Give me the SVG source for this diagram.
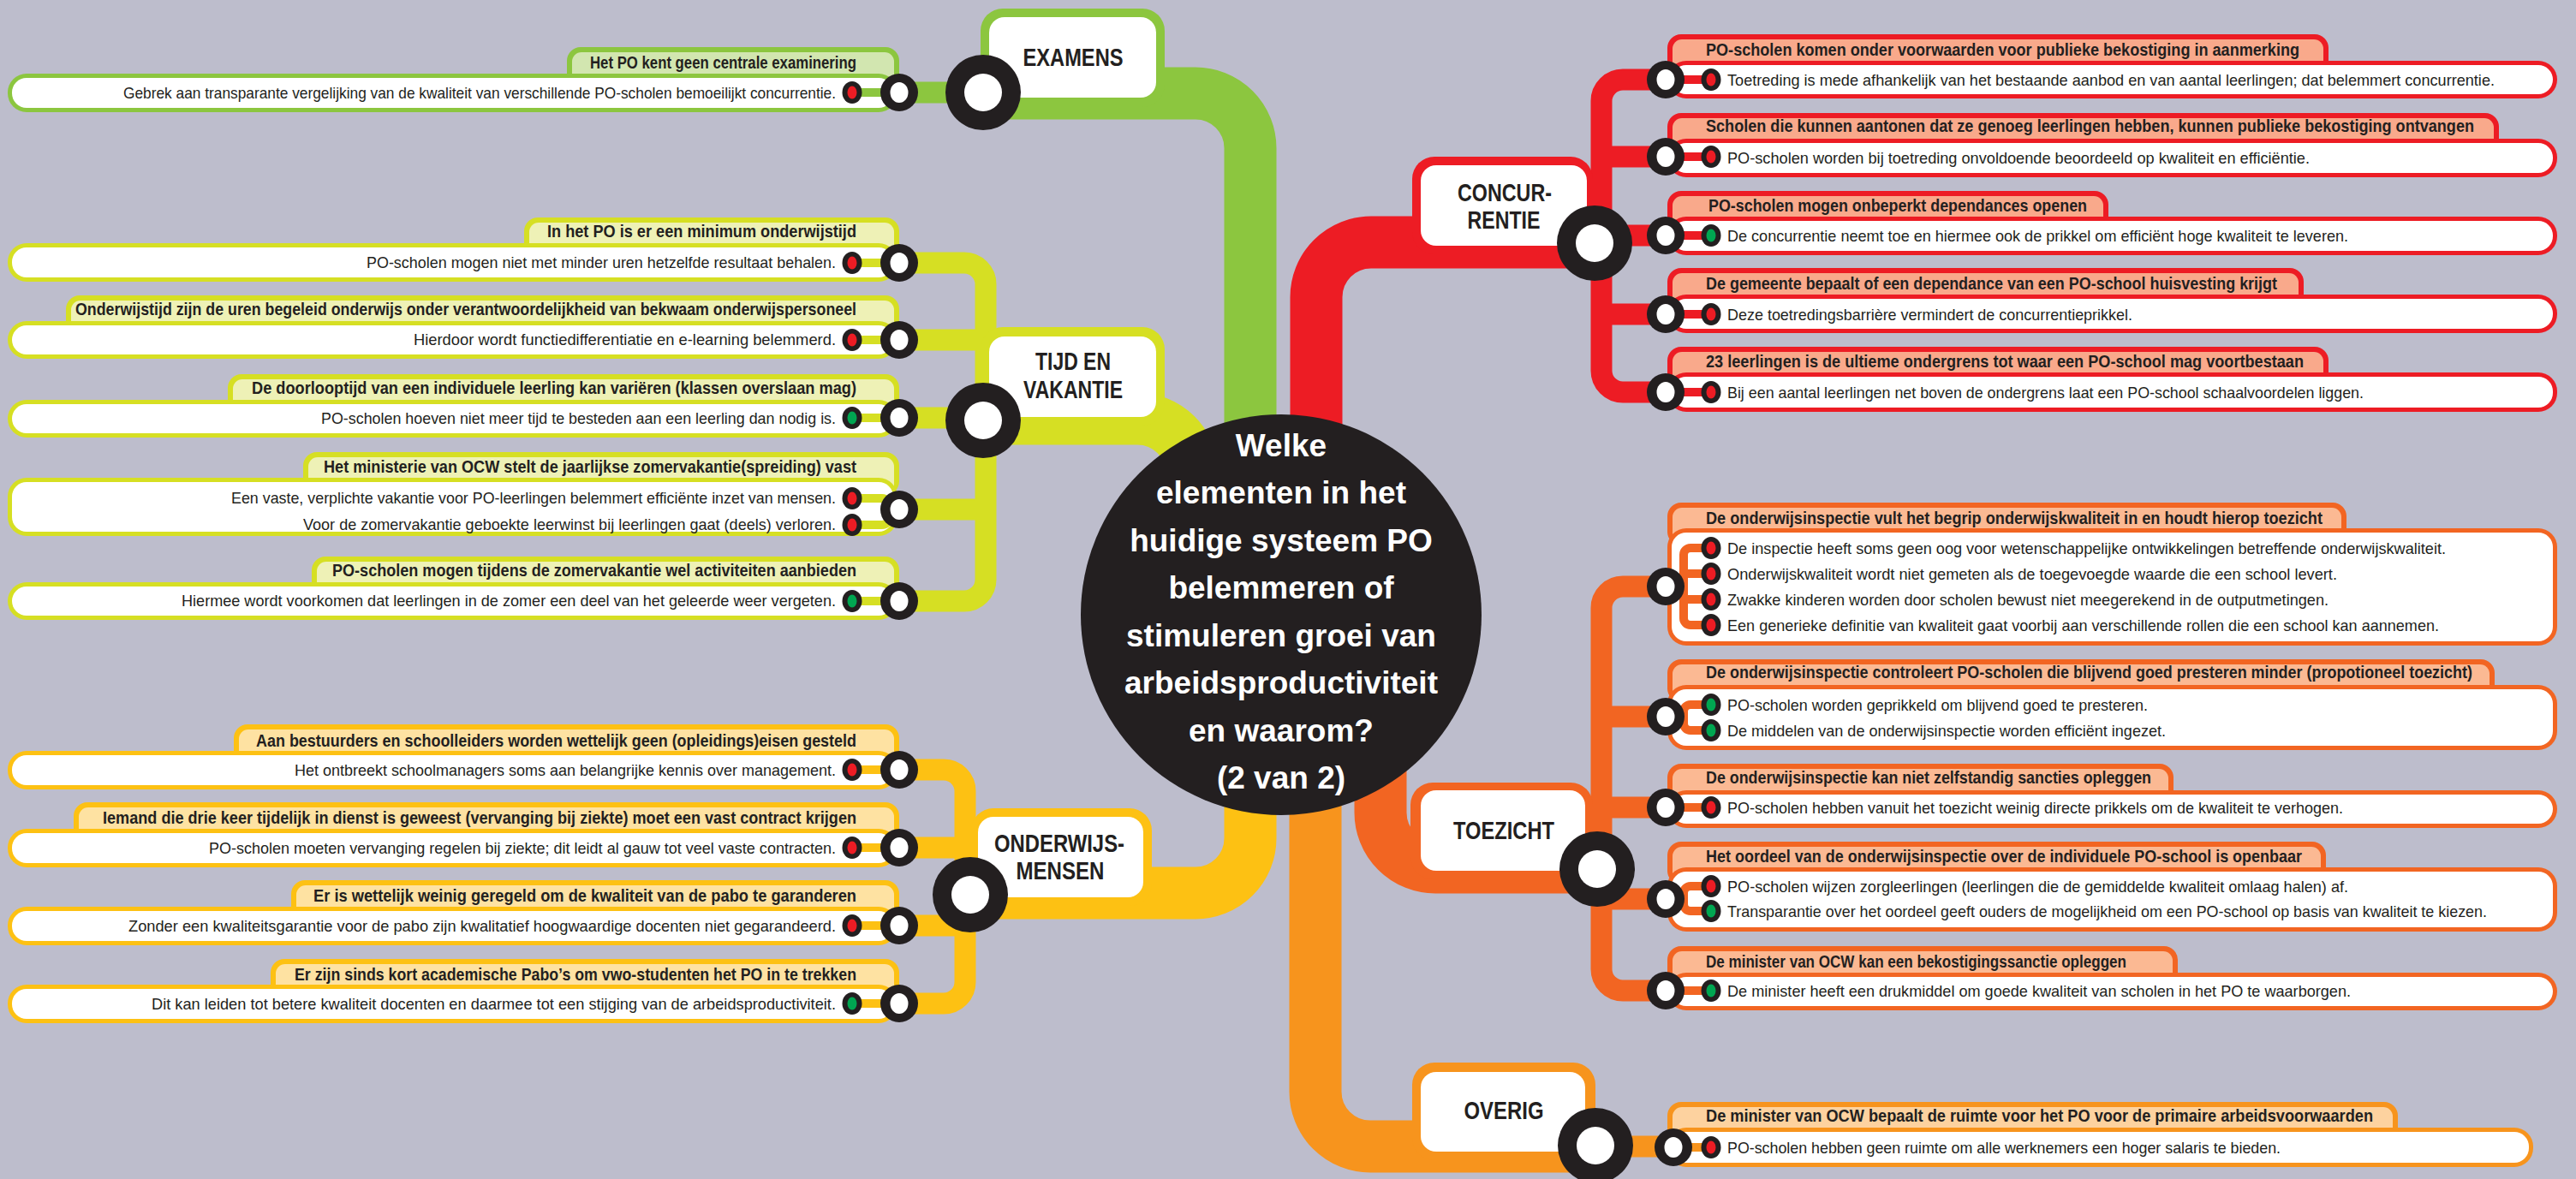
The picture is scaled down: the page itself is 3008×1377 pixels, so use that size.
<svg xmlns="http://www.w3.org/2000/svg" xmlns:xlink="http://www.w3.org/1999/xlink" width="3008" height="1377" viewBox="0 0 3008 1377">
<style>
.bg{fill:#bdbdcc}
.ex{fill:#8cc63f}.tv{fill:#d6df23}.co{fill:#ed1c24}.to{fill:#f26522}.om{fill:#fdc113}.ov{fill:#f7941d}
.tex{fill:#d2e6b0}.ttv{fill:#eef1b6}.tco{fill:#f9a98b}.tto{fill:#fbb993}.tom{fill:#fee2a2}.tov{fill:#fdd29f}
.sex{stroke:#8cc63f}.stv{stroke:#d6df23}.sco{stroke:#ed1c24}.sto{stroke:#f26522}.som{stroke:#fdc113}.sov{stroke:#f7941d}
.w{fill:#fff}
.band{fill:none;stroke-width:61}
.bus{fill:none;stroke-width:25}
.stub{fill:none;stroke-width:10}
.h{font-family:"Liberation Sans",Arial,sans-serif;font-weight:bold;font-size:21px;fill:#231f20}
.t{font-family:"Liberation Sans",Arial,sans-serif;font-size:18.5px;fill:#231f20}
.l{font-family:"Liberation Sans",Arial,sans-serif;font-weight:bold;font-size:30px;fill:#231f20;text-anchor:middle}
.q{font-family:"Liberation Sans",Arial,sans-serif;font-weight:bold;font-size:37px;fill:#fff;text-anchor:middle}
.e{text-anchor:end}
</style>
<defs>
<g id="ring"><circle r="22" fill="#231f20"/><ellipse rx="10.5" ry="12" fill="#fff"/></g>
<g id="hub"><circle r="44" fill="#231f20"/><circle r="22" fill="#fff"/></g>
<g id="dr"><ellipse rx="11.5" ry="13" fill="#231f20"/><ellipse rx="5.5" ry="7.5" fill="#ed1c24"/></g>
<g id="dg"><ellipse rx="11.5" ry="13" fill="#231f20"/><ellipse rx="5.5" ry="7.5" fill="#00a651"/></g>
</defs>
<rect class="bg" x="0" y="0" width="3008" height="1377"/>

<!-- branch lines and leaf buses -->
<g id="connectors">
<path class="band sex" d="M1148,109H1396A64,64 0 0 1 1460,173V600"/>
<path class="band stv" d="M1148,489H1328A64,64 0 0 1 1392,553V700"/>
<path class="band sco" d="M1862,283H1601A64,64 0 0 0 1537,347V600"/>
<path class="band som" d="M1133,1043H1396A64,64 0 0 0 1460,979V800"/>
<path class="band sto" d="M1865,1013H1676A64,64 0 0 1 1612,949V800"/>
<path class="band sov" d="M1863,1339H1600A64,64 0 0 1 1536,1275V800"/>
<path class="bus sex" d="M1050,108H1148"/>
<path class="bus stv" d="M1050,307H1126A25,25 0 0 1 1151,332V677A25,25 0 0 1 1126,702H1050M1050,397H1151M1050,488H1151M1050,595H1151"/>
<path class="bus sco" d="M1945,93H1895A25,25 0 0 0 1870,118V433A25,25 0 0 0 1895,458H1945M1870,183H1945M1870,275H1945M1870,367H1945"/>
<path class="bus sto" d="M1945,685H1895A25,25 0 0 0 1870,710V1132A25,25 0 0 0 1895,1157H1945M1870,837H1945M1870,943H1945M1870,1050H1945"/>
<path class="bus som" d="M1050,899H1102A25,25 0 0 1 1127,924V1147A25,25 0 0 1 1102,1172H1050M1050,990H1127M1050,1081H1127"/>
<path class="bus sov" d="M1863,1339H1954"/>
</g>

<!-- EXAMENS leaves -->
<g id="ex-1">
<rect class="ex" x="662" y="55" width="388" height="51" rx="16"/><rect class="tex" x="668" y="61" width="376" height="45" rx="11"/>
<rect class="ex" x="9" y="86" width="1039" height="45" rx="22"/><rect class="w" x="14" y="91" width="1029" height="35" rx="17"/>
<text class="h e" x="1000" y="80" textLength="311" lengthAdjust="spacingAndGlyphs">Het PO kent geen centrale examinering</text>
<path class="stub sex" d="M995,108H1050"/><use href="#dr" x="995" y="108"/>
<text class="t e" x="976" y="115" textLength="832" lengthAdjust="spacingAndGlyphs">Gebrek aan transparante vergelijking van de kwaliteit van verschillende PO-scholen bemoeilijkt concurrentie.</text>
<use href="#ring" x="1050" y="108"/>
</g>

<!-- TIJD EN VAKANTIE leaves -->
<g id="tv-1">
<rect class="tv" x="612" y="254" width="438" height="50" rx="16"/><rect class="ttv" x="618" y="260" width="426" height="44" rx="11"/>
<rect class="tv" x="9" y="284" width="1039" height="45" rx="22"/><rect class="w" x="14" y="289" width="1029" height="35" rx="17"/>
<text class="h e" x="1000" y="277" textLength="361" lengthAdjust="spacingAndGlyphs">In het PO is er een minimum onderwijstijd</text>
<path class="stub stv" d="M995,307H1050"/><use href="#dr" x="995" y="307"/>
<text class="t e" x="976" y="313" textLength="548" lengthAdjust="spacingAndGlyphs">PO-scholen mogen niet met minder uren hetzelfde resultaat behalen.</text>
<use href="#ring" x="1050" y="307"/>
</g>
<g id="tv-2">
<rect class="tv" x="77" y="345" width="973" height="50" rx="16"/><rect class="ttv" x="83" y="351" width="961" height="44" rx="11"/>
<rect class="tv" x="9" y="375" width="1039" height="44" rx="22"/><rect class="w" x="14" y="380" width="1029" height="34" rx="17"/>
<text class="h e" x="1000" y="368" textLength="912" lengthAdjust="spacingAndGlyphs">Onderwijstijd zijn de uren begeleid onderwijs onder verantwoordelijkheid van bekwaam onderwijspersoneel</text>
<path class="stub stv" d="M995,397H1050"/><use href="#dr" x="995" y="397"/>
<text class="t e" x="976" y="403" textLength="493" lengthAdjust="spacingAndGlyphs">Hierdoor wordt functiedifferentiatie en e-learning belemmerd.</text>
<use href="#ring" x="1050" y="397"/>
</g>
<g id="tv-3">
<rect class="tv" x="266" y="437" width="784" height="50" rx="16"/><rect class="ttv" x="272" y="443" width="772" height="44" rx="11"/>
<rect class="tv" x="9" y="467" width="1039" height="44" rx="22"/><rect class="w" x="14" y="472" width="1029" height="34" rx="17"/>
<text class="h e" x="1000" y="460" textLength="706" lengthAdjust="spacingAndGlyphs">De doorlooptijd van een individuele leerling kan variëren (klassen overslaan mag)</text>
<path class="stub stv" d="M995,488H1050"/><use href="#dg" x="995" y="488"/>
<text class="t e" x="976" y="495" textLength="601" lengthAdjust="spacingAndGlyphs">PO-scholen hoeven niet meer tijd te besteden aan een leerling dan nodig is.</text>
<use href="#ring" x="1050" y="488"/>
</g>
<g id="tv-4">
<rect class="tv" x="354" y="528" width="696" height="50" rx="16"/><rect class="ttv" x="360" y="534" width="684" height="44" rx="11"/>
<rect class="tv" x="9" y="558" width="1039" height="68" rx="22"/><rect class="w" x="14" y="563" width="1029" height="58" rx="17"/>
<text class="h e" x="1000" y="552" textLength="622" lengthAdjust="spacingAndGlyphs">Het ministerie van OCW stelt de jaarlijkse zomervakantie(spreiding) vast</text>
<path class="stub stv" d="M995,582H1030A8,8 0 0 1 1038,590V605A8,8 0 0 1 1030,613H995M1038,595H1050"/>
<use href="#dr" x="995" y="582"/><use href="#dr" x="995" y="613"/>
<text class="t e" x="976" y="588" textLength="706" lengthAdjust="spacingAndGlyphs">Een vaste, verplichte vakantie voor PO-leerlingen belemmert efficiënte inzet van mensen.</text>
<text class="t e" x="976" y="619" textLength="622" lengthAdjust="spacingAndGlyphs">Voor de zomervakantie geboekte leerwinst bij leerlingen gaat (deels) verloren.</text>
<use href="#ring" x="1050" y="595"/>
</g>
<g id="tv-5">
<rect class="tv" x="364" y="650" width="686" height="50" rx="16"/><rect class="ttv" x="370" y="656" width="674" height="44" rx="11"/>
<rect class="tv" x="9" y="680" width="1039" height="44" rx="22"/><rect class="w" x="14" y="685" width="1029" height="34" rx="17"/>
<text class="h e" x="1000" y="673" textLength="612" lengthAdjust="spacingAndGlyphs">PO-scholen mogen tijdens de zomervakantie wel activiteiten aanbieden</text>
<path class="stub stv" d="M995,702H1050"/><use href="#dg" x="995" y="702"/>
<text class="t e" x="976" y="708" textLength="764" lengthAdjust="spacingAndGlyphs">Hiermee wordt voorkomen dat leerlingen in de zomer een deel van het geleerde weer vergeten.</text>
<use href="#ring" x="1050" y="702"/>
</g>

<!-- ONDERWIJSMENSEN leaves -->
<g id="om-1">
<rect class="om" x="273" y="846" width="777" height="51" rx="16"/><rect class="tom" x="279" y="852" width="765" height="45" rx="11"/>
<rect class="om" x="9" y="877" width="1039" height="45" rx="22"/><rect class="w" x="14" y="882" width="1029" height="35" rx="17"/>
<text class="h e" x="1000" y="872" textLength="701" lengthAdjust="spacingAndGlyphs">Aan bestuurders en schoolleiders worden wettelijk geen (opleidings)eisen gesteld</text>
<path class="stub som" d="M995,899H1050"/><use href="#dr" x="995" y="899"/>
<text class="t e" x="976" y="906" textLength="632" lengthAdjust="spacingAndGlyphs">Het ontbreekt schoolmanagers soms aan belangrijke kennis over management.</text>
<use href="#ring" x="1050" y="899"/>
</g>
<g id="om-2">
<rect class="om" x="86" y="937" width="964" height="51" rx="16"/><rect class="tom" x="92" y="943" width="952" height="45" rx="11"/>
<rect class="om" x="9" y="968" width="1039" height="45" rx="22"/><rect class="w" x="14" y="973" width="1029" height="35" rx="17"/>
<text class="h e" x="1000" y="962" textLength="880" lengthAdjust="spacingAndGlyphs">Iemand die drie keer tijdelijk in dienst is geweest (vervanging bij ziekte) moet een vast contract krijgen</text>
<path class="stub som" d="M995,990H1050"/><use href="#dr" x="995" y="990"/>
<text class="t e" x="976" y="997" textLength="732" lengthAdjust="spacingAndGlyphs">PO-scholen moeten vervanging regelen bij ziekte; dit leidt al gauw tot veel vaste contracten.</text>
<use href="#ring" x="1050" y="990"/>
</g>
<g id="om-3">
<rect class="om" x="340" y="1028" width="710" height="51" rx="16"/><rect class="tom" x="346" y="1034" width="698" height="45" rx="11"/>
<rect class="om" x="9" y="1059" width="1039" height="45" rx="22"/><rect class="w" x="14" y="1064" width="1029" height="35" rx="17"/>
<text class="h e" x="1000" y="1053" textLength="634" lengthAdjust="spacingAndGlyphs">Er is wettelijk weinig geregeld om de kwaliteit van de pabo te garanderen</text>
<path class="stub som" d="M995,1081H1050"/><use href="#dr" x="995" y="1081"/>
<text class="t e" x="976" y="1088" textLength="826" lengthAdjust="spacingAndGlyphs">Zonder een kwaliteitsgarantie voor de pabo zijn kwalitatief hoogwaardige docenten niet gegarandeerd.</text>
<use href="#ring" x="1050" y="1081"/>
</g>
<g id="om-4">
<rect class="om" x="316" y="1120" width="734" height="50" rx="16"/><rect class="tom" x="322" y="1126" width="722" height="44" rx="11"/>
<rect class="om" x="9" y="1150" width="1039" height="45" rx="22"/><rect class="w" x="14" y="1155" width="1029" height="35" rx="17"/>
<text class="h e" x="1000" y="1145" textLength="656" lengthAdjust="spacingAndGlyphs">Er zijn sinds kort academische Pabo’s om vwo-studenten het PO in te trekken</text>
<path class="stub som" d="M995,1172H1050"/><use href="#dg" x="995" y="1172"/>
<text class="t e" x="976" y="1179" textLength="799" lengthAdjust="spacingAndGlyphs">Dit kan leiden tot betere kwaliteit docenten en daarmee tot een stijging van de arbeidsproductiviteit.</text>
<use href="#ring" x="1050" y="1172"/>
</g>

<!-- CONCURRENTIE leaves -->
<g id="co-1">
<rect class="co" x="1947" y="40" width="772" height="51" rx="16"/><rect class="tco" x="1953" y="46" width="760" height="45" rx="11"/>
<rect class="co" x="1947" y="71" width="1039" height="44" rx="22"/><rect class="w" x="1952" y="76" width="1029" height="34" rx="17"/>
<text class="h" x="1992" y="65" textLength="693" lengthAdjust="spacingAndGlyphs">PO-scholen komen onder voorwaarden voor publieke bekostiging in aanmerking</text>
<path class="stub sco" d="M1945,93H1998"/><use href="#dr" x="1998" y="93"/>
<text class="t" x="2017" y="100" textLength="896" lengthAdjust="spacingAndGlyphs">Toetreding is mede afhankelijk van het bestaande aanbod en van aantal leerlingen; dat belemmert concurrentie.</text>
<use href="#ring" x="1945" y="93"/>
</g>
<g id="co-2">
<rect class="co" x="1947" y="132" width="971" height="50" rx="16"/><rect class="tco" x="1953" y="138" width="959" height="44" rx="11"/>
<rect class="co" x="1947" y="162" width="1039" height="45" rx="22"/><rect class="w" x="1952" y="167" width="1029" height="35" rx="17"/>
<text class="h" x="1992" y="154" textLength="897" lengthAdjust="spacingAndGlyphs">Scholen die kunnen aantonen dat ze genoeg leerlingen hebben, kunnen publieke bekostiging ontvangen</text>
<path class="stub sco" d="M1945,183H1998"/><use href="#dr" x="1998" y="183"/>
<text class="t" x="2017" y="191" textLength="680" lengthAdjust="spacingAndGlyphs">PO-scholen worden bij toetreding onvoldoende beoordeeld op kwaliteit en efficiëntie.</text>
<use href="#ring" x="1945" y="183"/>
</g>
<g id="co-3">
<rect class="co" x="1947" y="223" width="515" height="50" rx="16"/><rect class="tco" x="1953" y="229" width="503" height="44" rx="11"/>
<rect class="co" x="1947" y="253" width="1039" height="45" rx="22"/><rect class="w" x="1952" y="258" width="1029" height="35" rx="17"/>
<text class="h" x="1995" y="247" textLength="442" lengthAdjust="spacingAndGlyphs">PO-scholen mogen onbeperkt dependances openen</text>
<path class="stub sco" d="M1945,275H1998"/><use href="#dg" x="1998" y="275"/>
<text class="t" x="2017" y="282" textLength="725" lengthAdjust="spacingAndGlyphs">De concurrentie neemt toe en hiermee ook de prikkel om efficiënt hoge kwaliteit te leveren.</text>
<use href="#ring" x="1945" y="275"/>
</g>
<g id="co-4">
<rect class="co" x="1947" y="313" width="743" height="51" rx="16"/><rect class="tco" x="1953" y="319" width="731" height="45" rx="11"/>
<rect class="co" x="1947" y="344" width="1039" height="45" rx="22"/><rect class="w" x="1952" y="349" width="1029" height="35" rx="17"/>
<text class="h" x="1992" y="338" textLength="667" lengthAdjust="spacingAndGlyphs">De gemeente bepaalt of een dependance van een PO-school huisvesting krijgt</text>
<path class="stub sco" d="M1945,367H1998"/><use href="#dr" x="1998" y="367"/>
<text class="t" x="2017" y="374" textLength="473" lengthAdjust="spacingAndGlyphs">Deze toetredingsbarrière vermindert de concurrentieprikkel.</text>
<use href="#ring" x="1945" y="367"/>
</g>
<g id="co-5">
<rect class="co" x="1947" y="405" width="772" height="50" rx="16"/><rect class="tco" x="1953" y="411" width="760" height="44" rx="11"/>
<rect class="co" x="1947" y="435" width="1039" height="46" rx="22"/><rect class="w" x="1952" y="440" width="1029" height="36" rx="17"/>
<text class="h" x="1992" y="429" textLength="698" lengthAdjust="spacingAndGlyphs">23 leerlingen is de ultieme ondergrens tot waar een PO-school mag voortbestaan</text>
<path class="stub sco" d="M1945,458H1998"/><use href="#dr" x="1998" y="458"/>
<text class="t" x="2017" y="465" textLength="743" lengthAdjust="spacingAndGlyphs">Bij een aantal leerlingen net boven de ondergrens laat een PO-school schaalvoordelen liggen.</text>
<use href="#ring" x="1945" y="458"/>
</g>

<!-- TOEZICHT leaves -->
<g id="to-1">
<rect class="to" x="1947" y="587" width="793" height="50" rx="16"/><rect class="tto" x="1953" y="593" width="781" height="44" rx="11"/>
<rect class="to" x="1947" y="617" width="1039" height="137" rx="22"/><rect class="w" x="1952" y="622" width="1029" height="127" rx="17"/>
<text class="h" x="1992" y="612" textLength="720" lengthAdjust="spacingAndGlyphs">De onderwijsinspectie vult het begrip onderwijskwaliteit in en houdt hierop toezicht</text>
<path class="stub sto" d="M1998,640H1974A8,8 0 0 0 1966,648V722A8,8 0 0 0 1974,730H1998M1966,670H1998M1966,700H1998M1945,685H1966"/>
<use href="#dr" x="1998" y="640"/><use href="#dr" x="1998" y="670"/><use href="#dr" x="1998" y="700"/><use href="#dr" x="1998" y="730"/>
<text class="t" x="2017" y="647" textLength="839" lengthAdjust="spacingAndGlyphs">De inspectie heeft soms geen oog voor wetenschappelijke ontwikkelingen betreffende onderwijskwaliteit.</text>
<text class="t" x="2017" y="677" textLength="712" lengthAdjust="spacingAndGlyphs">Onderwijskwaliteit wordt niet gemeten als de toegevoegde waarde die een school levert.</text>
<text class="t" x="2017" y="707" textLength="702" lengthAdjust="spacingAndGlyphs">Zwakke kinderen worden door scholen bewust niet meegerekend in de outputmetingen.</text>
<text class="t" x="2017" y="737" textLength="831" lengthAdjust="spacingAndGlyphs">Een generieke definitie van kwaliteit gaat voorbij aan verschillende rollen die een school kan aannemen.</text>
<use href="#ring" x="1945" y="685"/>
</g>
<g id="to-2">
<rect class="to" x="1947" y="770" width="966" height="50" rx="16"/><rect class="tto" x="1953" y="776" width="954" height="44" rx="11"/>
<rect class="to" x="1947" y="800" width="1039" height="76" rx="22"/><rect class="w" x="1952" y="805" width="1029" height="66" rx="17"/>
<text class="h" x="1992" y="792" textLength="895" lengthAdjust="spacingAndGlyphs">De onderwijsinspectie controleert PO-scholen die blijvend goed presteren minder (propotioneel toezicht)</text>
<path class="stub sto" d="M1998,823H1974A8,8 0 0 0 1966,831V845A8,8 0 0 0 1974,853H1998M1945,837H1966"/>
<use href="#dg" x="1998" y="823"/><use href="#dg" x="1998" y="853"/>
<text class="t" x="2017" y="830" textLength="491" lengthAdjust="spacingAndGlyphs">PO-scholen worden geprikkeld om blijvend goed te presteren.</text>
<text class="t" x="2017" y="860" textLength="512" lengthAdjust="spacingAndGlyphs">De middelen van de onderwijsinspectie worden efficiënt ingezet.</text>
<use href="#ring" x="1945" y="837"/>
</g>
<g id="to-3">
<rect class="to" x="1947" y="892" width="591" height="51" rx="16"/><rect class="tto" x="1953" y="898" width="579" height="45" rx="11"/>
<rect class="to" x="1947" y="923" width="1039" height="44" rx="22"/><rect class="w" x="1952" y="928" width="1029" height="34" rx="17"/>
<text class="h" x="1992" y="915" textLength="520" lengthAdjust="spacingAndGlyphs">De onderwijsinspectie kan niet zelfstandig sancties opleggen</text>
<path class="stub sto" d="M1945,943H1998"/><use href="#dr" x="1998" y="943"/>
<text class="t" x="2017" y="950" textLength="719" lengthAdjust="spacingAndGlyphs">PO-scholen hebben vanuit het toezicht weinig directe prikkels om de kwaliteit te verhogen.</text>
<use href="#ring" x="1945" y="943"/>
</g>
<g id="to-4">
<rect class="to" x="1947" y="983" width="769" height="50" rx="16"/><rect class="tto" x="1953" y="989" width="757" height="44" rx="11"/>
<rect class="to" x="1947" y="1013" width="1039" height="75" rx="22"/><rect class="w" x="1952" y="1018" width="1029" height="65" rx="17"/>
<text class="h" x="1992" y="1007" textLength="696" lengthAdjust="spacingAndGlyphs">Het oordeel van de onderwijsinspectie over de individuele PO-school is openbaar</text>
<path class="stub sto" d="M1998,1035H1974A8,8 0 0 0 1966,1043V1056A8,8 0 0 0 1974,1064H1998M1945,1050H1966"/>
<use href="#dr" x="1998" y="1035"/><use href="#dg" x="1998" y="1064"/>
<text class="t" x="2017" y="1042" textLength="725" lengthAdjust="spacingAndGlyphs">PO-scholen wijzen zorgleerlingen (leerlingen die de gemiddelde kwaliteit omlaag halen) af.</text>
<text class="t" x="2017" y="1071" textLength="887" lengthAdjust="spacingAndGlyphs">Transparantie over het oordeel geeft ouders de mogelijkheid om een PO-school op basis van kwaliteit te kiezen.</text>
<use href="#ring" x="1945" y="1050"/>
</g>
<g id="to-5">
<rect class="to" x="1947" y="1105" width="596" height="51" rx="16"/><rect class="tto" x="1953" y="1111" width="584" height="45" rx="11"/>
<rect class="to" x="1947" y="1136" width="1039" height="44" rx="22"/><rect class="w" x="1952" y="1141" width="1029" height="34" rx="17"/>
<text class="h" x="1992" y="1130" textLength="491" lengthAdjust="spacingAndGlyphs">De minister van OCW kan een bekostigingssanctie opleggen</text>
<path class="stub sto" d="M1945,1157H1998"/><use href="#dg" x="1998" y="1157"/>
<text class="t" x="2017" y="1164" textLength="728" lengthAdjust="spacingAndGlyphs">De minister heeft een drukmiddel om goede kwaliteit van scholen in het PO te waarborgen.</text>
<use href="#ring" x="1945" y="1157"/>
</g>

<!-- OVERIG leaf -->
<g id="ov-1">
<rect class="ov" x="1947" y="1287" width="853" height="50" rx="16"/><rect class="tov" x="1953" y="1293" width="841" height="44" rx="11"/>
<rect class="ov" x="1947" y="1317" width="1011" height="46" rx="22"/><rect class="w" x="1952" y="1322" width="1001" height="36" rx="17"/>
<text class="h" x="1992" y="1310" textLength="779" lengthAdjust="spacingAndGlyphs">De minister van OCW bepaalt de ruimte voor het PO voor de primaire arbeidsvoorwaarden</text>
<path class="stub sov" d="M1954,1340H1998"/><use href="#dr" x="1998" y="1340"/>
<text class="t" x="2017" y="1347" textLength="646" lengthAdjust="spacingAndGlyphs">PO-scholen hebben geen ruimte om alle werknemers een hoger salaris te bieden.</text>
<use href="#ring" x="1954" y="1340"/>
</g>

<!-- branch nodes -->
<g id="examens">
<rect class="ex" x="1145" y="10" width="215" height="115" rx="26"/><rect class="w" x="1155" y="20" width="195" height="94" rx="18"/>
<text class="l" x="1253" y="77" textLength="117" lengthAdjust="spacingAndGlyphs">EXAMENS</text>
<use href="#hub" x="1148" y="108"/>
</g>
<g id="tijd-en-vakantie">
<rect class="tv" x="1145" y="382" width="215" height="115" rx="26"/><rect class="w" x="1155" y="393" width="195" height="94" rx="18"/>
<text class="l" x="1253" y="432" textLength="88" lengthAdjust="spacingAndGlyphs">TIJD EN</text>
<text class="l" x="1253" y="465" textLength="116" lengthAdjust="spacingAndGlyphs">VAKANTIE</text>
<use href="#hub" x="1148" y="491"/>
</g>
<g id="concurrentie">
<rect class="co" x="1649" y="183" width="211" height="114" rx="26"/><rect class="w" x="1659" y="193" width="194" height="94" rx="18"/>
<text class="l" x="1757" y="235" textLength="110" lengthAdjust="spacingAndGlyphs">CONCUR-</text>
<text class="l" x="1756" y="267" textLength="85" lengthAdjust="spacingAndGlyphs">RENTIE</text>
<use href="#hub" x="1862" y="284"/>
</g>
<g id="toezicht">
<rect class="to" x="1647" y="914" width="213" height="113" rx="26"/><rect class="w" x="1659" y="923" width="192" height="94" rx="18"/>
<text class="l" x="1756" y="980" textLength="118" lengthAdjust="spacingAndGlyphs">TOEZICHT</text>
<use href="#hub" x="1865" y="1015"/>
</g>
<g id="onderwijsmensen">
<rect class="om" x="1134" y="944" width="211" height="114" rx="26"/><rect class="w" x="1142" y="954" width="193" height="94" rx="18"/>
<text class="l" x="1237" y="995" textLength="152" lengthAdjust="spacingAndGlyphs">ONDERWIJS-</text>
<text class="l" x="1238" y="1027" textLength="103" lengthAdjust="spacingAndGlyphs">MENSEN</text>
<use href="#hub" x="1133" y="1045"/>
</g>
<g id="overig">
<rect class="ov" x="1649" y="1241" width="214" height="114" rx="26"/><rect class="w" x="1659" y="1252" width="192" height="93" rx="18"/>
<text class="l" x="1756" y="1307" textLength="93" lengthAdjust="spacingAndGlyphs">OVERIG</text>
<use href="#hub" x="1863" y="1338"/>
</g>

<!-- central question -->
<g id="centre">
<circle cx="1496" cy="718" r="234" fill="#231f20"/>
<text class="q" x="1496" y="533">Welke</text>
<text class="q" x="1496" y="588">elementen in het</text>
<text class="q" x="1496" y="644">huidige systeem PO</text>
<text class="q" x="1496" y="699">belemmeren of</text>
<text class="q" x="1496" y="755">stimuleren groei van</text>
<text class="q" x="1496" y="810">arbeidsproductiviteit</text>
<text class="q" x="1496" y="866">en waarom?</text>
<text class="q" x="1496" y="921">(2 van 2)</text>
</g>
</svg>
